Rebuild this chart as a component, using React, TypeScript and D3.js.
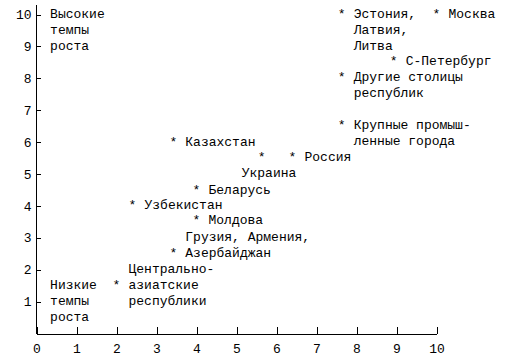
import React, { useEffect, useRef } from "react";
import * as d3 from "d3";

// точки: [x, y], подпись по строкам, строка со звёздочкой
const names = [
  "Эстония", "Москва", "С-Петербург", "Другие столицы", "Крупные города",
  "Казахстан", "Украина", "Россия", "Беларусь", "Узбекистан", "Молдова",
  "Закавказье", "Центральная Азия",
];
const xValues = [7.63, 10.0, 8.93, 7.63, 7.63, 3.42, 5.63, 6.4, 4.0, 2.4, 4.0, 3.42, 2.0];
const yValues = [10, 10, 8.53, 8.03, 6.52, 6.0, 5.52, 5.52, 4.48, 4.01, 3.54, 2.51, 1.5];
const labels = [
  ["Эстония,", "Латвия,", "Литва"],
  ["Москва"],
  ["С-Петербург"],
  ["Другие столицы", "республик"],
  ["Крупные промыш-", "ленные города"],
  ["Казахстан"],
  ["", "Украина"],
  ["Россия"],
  ["Беларусь"],
  ["Узбекистан"],
  ["Молдова"],
  ["Грузия, Армения,", "Азербайджан"],
  ["Центрально-", "азиатские", "республики"],
];
const starRow = [0, 0, 0, 0, 0, 0, 0, 0, 0, 0, 0, 1, 1];

// подписи без точек
const notes = [
  { x: 0.34, y: 10, lines: ["Высокие", "темпы", "роста"] },
  { x: 0.34, y: 1.5, lines: ["Низкие", "темпы", "роста"] },
];

const xTicks = [0, 1, 2, 3, 4, 5, 6, 7, 8, 9, 10];
const yTicks = [1, 2, 3, 4, 5, 6, 7, 8, 9, 10];

const font = "'Liberation Mono', 'DejaVu Sans Mono', monospace";

const App = () => {
  const ref = useRef<SVGSVGElement>(null);
  const width = 505;
  const height = 359;

  useEffect(() => {
    const svg = d3.select(ref.current);
    svg.selectAll("*").remove();

    const x = d3.scaleLinear().domain([0, 10]).range([36.5, 436.5]);
    const y = d3.scaleLinear().domain([0, 10]).range([333.5, 14.5]);
    const lineH = 16;

    // оси
    svg
      .append("g")
      .attr("transform", `translate(0,${y(0)})`)
      .call(
        d3.axisBottom(x).tickValues(xTicks).tickFormat(d3.format("d")).tickSize(-7).tickPadding(10).tickSizeOuter(0)
      )
      .call((g) => g.selectAll("text").attr("font-family", font).attr("font-size", 13));

    const yAxis = svg
      .append("g")
      .attr("transform", `translate(${x(0)},0)`)
      .call(
        d3.axisLeft(y).tickValues(yTicks).tickFormat(d3.format("d")).tickSize(-4).tickPadding(5).tickSizeOuter(0)
      )
      .call((g) => g.selectAll("text").attr("font-family", font).attr("font-size", 13));
    yAxis.select(".domain").attr("d", `M0,${y(0)}V${y(10.3)}`);

    svg.selectAll(".domain, .tick line").attr("shape-rendering", "crispEdges").attr("stroke", "#000");

    // точки со звёздочками
    const pts = svg.append("g").attr("font-family", font).attr("font-size", 13).attr("fill", "#000");
    names.forEach((name, i) => {
      const px = x(xValues[i]);
      const py = y(yValues[i]);
      pts
        .append("text")
        .attr("x", px)
        .attr("y", py)
        .attr("dominant-baseline", "central")
        .attr("text-anchor", "middle")
        .text("*");
      const dx = name === "Украина" ? -20 : 12;
      labels[i].forEach((line, j) => {
        if (!line) return;
        pts
          .append("text")
          .attr("x", px + dx)
          .attr("y", py + (j - starRow[i]) * lineH)
          .attr("dominant-baseline", "central")
          .text(line);
      });
    });

    notes.forEach((n) => {
      n.lines.forEach((line, j) => {
        pts
          .append("text")
          .attr("x", x(n.x))
          .attr("y", y(n.y) + j * lineH)
          .attr("dominant-baseline", "central")
          .text(line);
      });
    });
  }, []);

  return (
    <svg
      ref={ref}
      width={width}
      height={height}
      style={{ position: "absolute", left: 0, top: 0, background: "#fff" }}
    />
  );
};

export default App;
